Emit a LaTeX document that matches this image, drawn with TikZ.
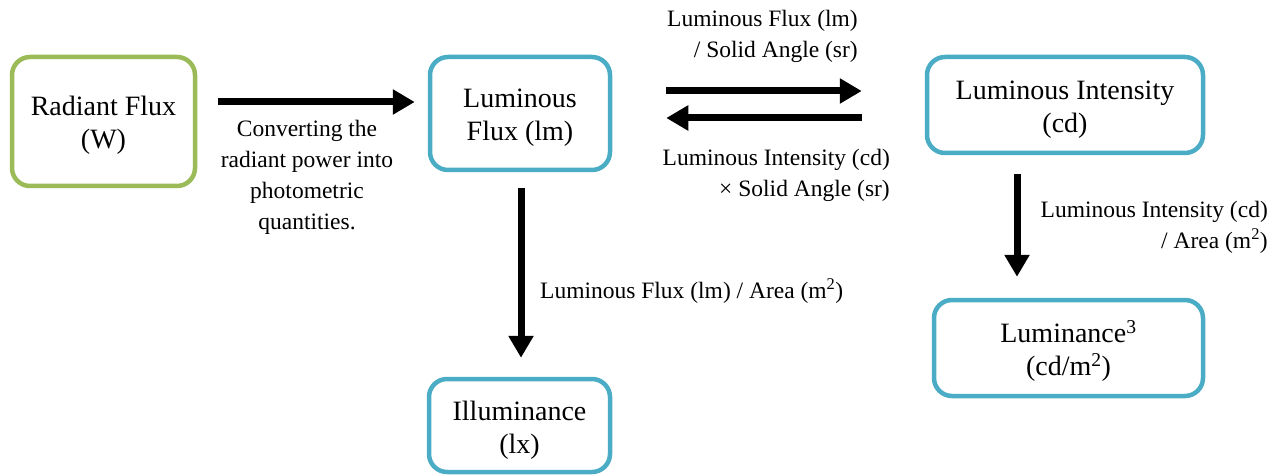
\documentclass[tikz,border=0pt]{standalone}
\usepackage{fontspec}
\setmainfont{Liberation Serif}
\usetikzlibrary{arrows.meta}
\definecolor{cgreen}{RGB}{155,187,89}
\definecolor{cblue}{RGB}{75,172,198}
\tikzset{photo/.style={x=1pt,y=-1pt},
  qbox/.style={draw=cblue,line width=4.5pt,rounded corners=18pt,align=center,
    inner sep=0pt,text height=55pt,text depth=0pt,font=\fontsize{28}{33}\selectfont},
  lbl/.style={font=\fontsize{23.5}{31}\selectfont,inner sep=0pt},
  bigarrow/.style={line width=7pt,-{Triangle[width=24pt,length=22pt]}}}

\begin{document}
\begin{tikzpicture}[photo]
    \useasboundingbox (0,0) rectangle (1286,476);
    % quantities (centres and sizes in px)
    \node[qbox,draw=cgreen,minimum width=183pt,minimum height=129pt] (rad) at (103.5,121.5) {Radiant Flux\\(W)};
    \node[qbox,minimum width=180pt,minimum height=113pt] (flux) at (520,113.5) {Luminous\\Flux (lm)};
    \node[qbox,minimum width=276pt,minimum height=96pt] (int) at (1065,105) {Luminous Intensity\\(cd)};
    \node[qbox,minimum width=269pt,minimum height=96pt] (lum) at (1068.5,348) {Luminance\textsuperscript{3}\\(cd/m\textsuperscript{2})};
    \node[qbox,minimum width=181pt,minimum height=93pt] (illum) at (519.5,425.5) {Illuminance\\(lx)};
    % conversions
    \draw[bigarrow,shorten <=21pt,shorten >=13pt] (rad.east |- 0,102) -- (flux.west |- 0,102);
    \draw[bigarrow,shorten <=54pt,shorten >=63pt] (flux.east |- 0,91) -- (int.west |- 0,91);
    \draw[bigarrow,shorten <=63pt,shorten >=54pt] (int.west |- 0,118) -- (flux.east |- 0,118);
    \draw[bigarrow,shorten <=16pt,shorten >=19pt] (521,0 |- flux.south) -- (521,0 |- illum.north);
    \draw[bigarrow,shorten <=19pt,shorten >=21pt] (1017,0 |- int.south) -- (1017,0 |- lum.north);
    \node[lbl,align=center] (conv) at (307,177) {Converting the\\radiant power into\\photometric\\quantities.};
    \node[lbl,align=right,anchor=east] (perangle) at (858,36) {Luminous Flux (lm)\\/ Solid Angle (sr)};
    \node[lbl,align=right,anchor=east] (timesangle) at (890,175) {Luminous Intensity (cd)\\× Solid Angle (sr)};
    \node[lbl,align=right,anchor=east] (perarea) at (1268,227) {Luminous Intensity (cd)\\/ Area (m\textsuperscript{2})};
    \node[lbl,anchor=west] (fluxarea) at (540,291) {Luminous Flux (lm) / Area (m\textsuperscript{2})};
\end{tikzpicture}
\end{document}
